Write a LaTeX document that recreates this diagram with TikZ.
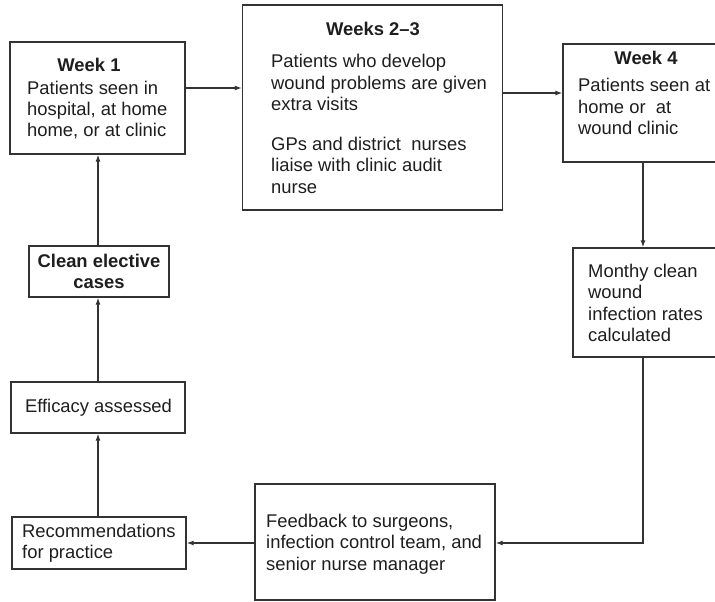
\documentclass[tikz,border=0pt]{standalone}
\usepackage{fontspec}
\setmainfont{Liberation Sans}
\usetikzlibrary{arrows.meta}
\definecolor{linec}{HTML}{333333}
\definecolor{textc}{HTML}{1E1E1E}
\newcommand{\mlinesL}[1]{\begin{tabular}[t]{@{}l@{}}#1\end{tabular}}
\newcommand{\mlinesC}[1]{\begin{tabular}[t]{@{}c@{}}#1\end{tabular}}
\begin{document}
\begin{tikzpicture}[x=1pt,y=-1pt,
  box/.style={draw=linec,line width=1.3pt,rectangle,inner sep=0pt},
  txt/.style={inner sep=0pt,anchor=base west,text=textc,font=\fontsize{18.4}{21.5}\selectfont},
  ttl/.style={inner sep=0pt,anchor=base,text=textc,font=\fontsize{18.4}{21.5}\selectfont\bfseries},
  ctr/.style={inner sep=0pt,anchor=base,text=textc,font=\fontsize{18.4}{21.5}\selectfont},
  arr/.style={draw=linec,line width=1.3pt,-{Latex[length=7pt,width=5pt]}}]
\useasboundingbox[fill=white] (0,0) rectangle (715,602);

% boxes
\node[box,minimum width=175pt,minimum height=112pt] (w1) at (97.5,98) {};
\node[box,minimum width=260pt,minimum height=205pt] (w23) at (372.5,107.5) {};
\node[box,minimum width=182pt,minimum height=118pt] (w4) at (654,103) {};
\node[box,minimum width=172pt,minimum height=109pt] (mon) at (659,302.5) {};
\node[box,minimum width=240pt,minimum height=116pt] (fb) at (375,542) {};
\node[box,minimum width=174pt,minimum height=52pt] (rec) at (99,543) {};
\node[box,minimum width=174pt,minimum height=51pt] (eff) at (98,407.5) {};
\node[box,minimum width=140pt,minimum height=51pt] (clean) at (99,271.5) {};

% texts
\node[ttl] (t1) at (89,71) {Week 1};
\node[txt] (b1) at (27,94) {\mlinesL{Patients seen in\\hospital, at home\\home, or at clinic}};
\node[ttl] (t23) at (373,36) {Weeks 2–3};
\node[txt] (b23a) at (271,68) {\mlinesL{Patients who develop\\wound problems are given\\extra visits}};
\node[txt] (b23b) at (271,150) {\mlinesL{GPs and district\ \ nurses\\liaise with clinic audit\\nurse}};
\node[ttl] (t4) at (646,65) {Week 4};
\node[txt] (b4) at (578,92) {\mlinesL{Patients seen at\\home or\ \ at\\wound clinic}};
\node[txt] (bm) at (588,277) {\mlinesL{Monthy clean\\wound\\infection rates\\calculated}};
\node[txt] (bf) at (266,527) {\mlinesL{Feedback to surgeons,\\infection control team, and\\senior nurse manager}};
\node[txt] (br) at (22,537) {\mlinesL{Recommendations\\for practice}};
\node[ctr] (be) at (98.5,412) {Efficacy assessed};
\node[ttl] (bc) at (99,267) {\mlinesC{Clean elective\\cases}};

% connector levels
\coordinate (ya) at (0,88);
\coordinate (yb) at (0,93);
\coordinate (xc) at (643,0);
\coordinate (yd) at (0,543);
\coordinate (xe) at (98,0);

\draw[arr] (w1.east |- ya) -- (w23.west |- ya);
\draw[arr] (w23.east |- yb) -- (w4.west |- yb);
\draw[arr] (w4.south -| xc) -- (mon.north -| xc);
\draw[arr] (mon.south -| xc) |- (fb.east |- yd);
\draw[arr] (fb.west |- yd) -- (rec.east |- yd);
\draw[arr] (rec.north -| xe) -- (eff.south -| xe);
\draw[arr] (eff.north -| xe) -- (clean.south -| xe);
\draw[arr] (clean.north -| xe) -- (w1.south -| xe);
\end{tikzpicture}
\end{document}
